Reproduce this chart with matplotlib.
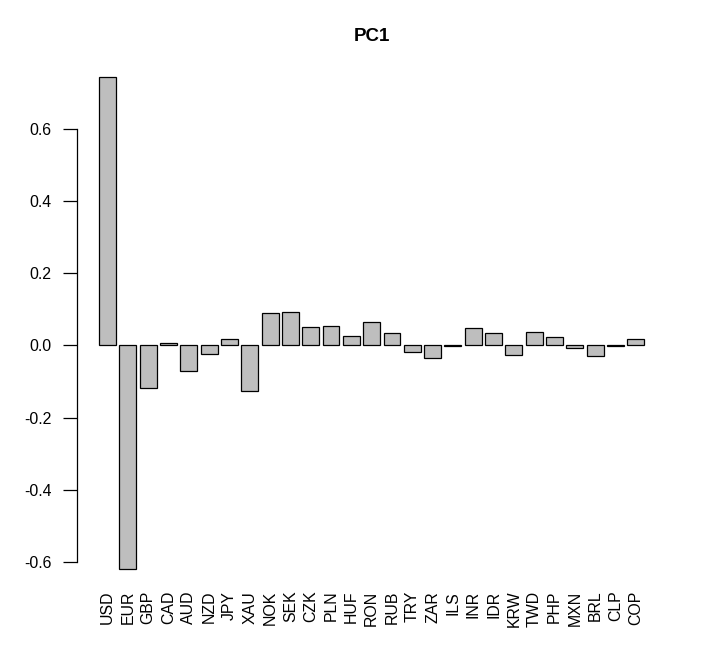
import matplotlib
matplotlib.use("Agg")
import matplotlib.pyplot as plt

plt.rcParams['font.family'] = ['Liberation Sans', 'DejaVu Sans']
plt.rcParams['axes.unicode_minus'] = False

currencies = ["USD", "EUR", "GBP", "CAD", "AUD", "NZD", "JPY", "XAU", "NOK", "SEK",
              "CZK", "PLN", "HUF", "RON", "RUB", "TRY", "ZAR", "ILS", "INR", "IDR",
              "KRW", "TWD", "PHP", "MXN", "BRL", "CLP", "COP"]
pc1 = [0.742, -0.618, -0.117, 0.006, -0.071, -0.023, 0.017, -0.126, 0.091, 0.092,
       0.052, 0.055, 0.025, 0.064, 0.034, -0.019, -0.034, -0.002, 0.048, 0.034,
       -0.026, 0.037, 0.023, -0.006, -0.028, -0.002, 0.019]
yticks = [-0.6, -0.4, -0.2, 0.0, 0.2, 0.4, 0.6]
ytick_labels = ["-0.6", "-0.4", "-0.2", "0.0", "0.2", "0.4", "0.6"]

W, H = 705, 667
fig = plt.figure(figsize=(W / 100, H / 100), dpi=100)
ax = fig.add_axes([77.2 / W, 78.6 / H, (666.1 - 77.2) / W, (588.4 - 57.7) / H])

n = len(currencies)
centers = [0.7 + 1.2 * i for i in range(n)]
ax.bar(centers, pc1, width=1.0, color="#BEBEBE", edgecolor="black", linewidth=0.9)

xmin, xmax = 0.2, 1.2 * n
xr = xmax - xmin
ax.set_xlim(xmin - 0.04 * xr, xmax + 0.04 * xr)
ymin, ymax = min(pc1), max(pc1)
yr = ymax - ymin
ax.set_ylim(ymin - 0.04 * yr, ymax + 0.04 * yr)

ax.set_xticks(centers)
ax.set_xticklabels(currencies, rotation=90, fontsize=11.4)
ax.tick_params(axis='x', length=0, pad=1.7)

ax.set_yticks(yticks)
ax.set_yticklabels(ytick_labels, fontsize=11.4)
ax.tick_params(axis='y', length=10, width=0.9, pad=8.3, direction='out')

for s in ["top", "right", "bottom"]:
    ax.spines[s].set_visible(False)
ax.spines["left"].set_bounds(-0.6, 0.6)
ax.spines["left"].set_linewidth(0.9)

fig.text((77.2 + 666.1) / 2 / W, 1 - 36.7 / H, "PC1", ha="center", va="center",
         fontsize=13.5, fontweight="bold")

fig.savefig("out.png", dpi=100)
